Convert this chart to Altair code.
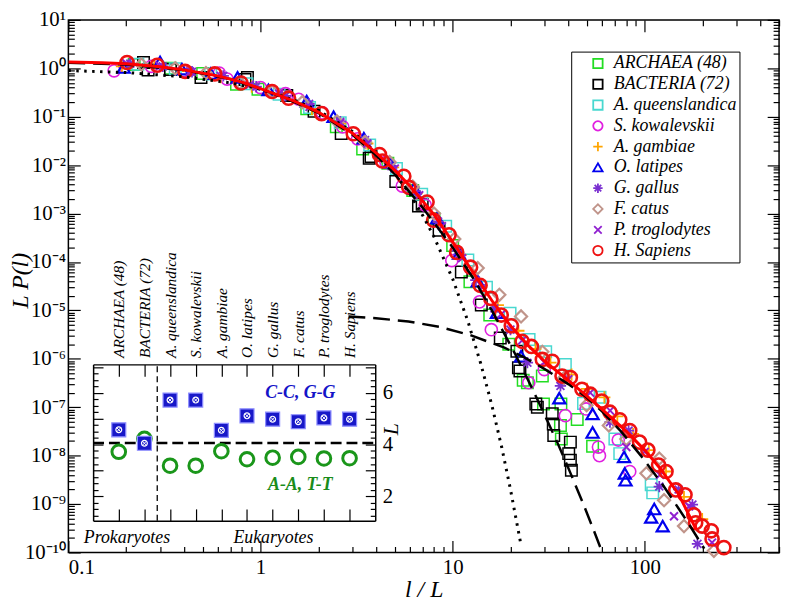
import altair as alt
import pandas as pd

FONT = "'Liberation Serif', 'Times New Roman', Times, serif"
W, H = 718, 538

# ---------------- main panel data ----------------
names = ["ARCHAEA (48)", "BACTERIA (72)", "A. queenslandica", "S. kowalevskii", "A. gambiae",
         "O. latipes", "G. gallus", "F. catus", "P. troglodytes", "H. Sapiens"]

x_ar = [0.22, 0.34, 0.5, 0.75, 0.97, 1.74, 2.48, 3.4, 4.6, 6.2, 8.0, 10.0, 12.3, 15.6, 19.6, 23.3,
        24.5, 29.3, 29.7, 36.6, 36.4, 36.8, 44.5, 53.5]
y_ar = [1.2, 1.0, 0.78, 0.47, 0.37, 0.147, 0.062, 0.0216, 0.011, 3.0e-3, 7.8e-4, 2.2e-4, 3.9e-5, 8.0e-6,
        2.0e-6, 3.6e-7, 3.2e-7, 4.4e-7, 1.16e-7, 1.16e-7, 4.2e-8, 2.2e-8, 5.6e-8, 1.57e-8]

x_ba = [0.26, 0.246, 0.34, 0.49, 0.83, 0.855, 1.37, 1.9, 2.63, 3.68, 3.76, 5.06, 6.64, 6.94, 8.5, 11.1,
        14.1, 17.7, 21.6, 22.0, 22.4, 27.1, 27.6, 33.0, 33.4, 33.6, 41.0, 40.2, 41.0, 41.5]
y_ba = [0.92, 1.32, 0.95, 0.65, 0.59, 0.65, 0.275, 0.13, 0.045, 0.0139, 0.0151, 4.6e-3, 1.43e-3, 1.55e-3,
        4.5e-4, 6.2e-5, 1.29e-5, 2.7e-6, 1.43e-6, 6.5e-7, 5.6e-7, 1.16e-7, 1.0e-7, 7.3e-8, 4.5e-8, 2.6e-8,
        1.9e-8, 1.1e-8, 8.0e-9, 5.0e-9]

x_aq = [0.23, 0.36, 0.55, 0.85, 1.25, 1.8, 2.6, 3.7, 5.1, 6.9, 9.2, 12.0, 15.0, 19.9, 25.0, 30.5, 38.6,
        48.0, 58.5, 69.9, 74.1, 108, 110]
y_aq = [1.22, 0.98, 0.76, 0.48, 0.29, 0.155, 0.075, 0.026, 8.5e-3, 2.5e-3, 5.5e-4, 1.1e-4, 3.0e-5, 8.7e-6,
        2.5e-6, 1.4e-6, 7.6e-7, 1.2e-7, 1.6e-7, 2.2e-8, 1.1e-8, 2.5e-9, 1.7e-9]

x_sk = [0.173, 0.27, 0.396, 0.61, 0.67, 1.0, 1.35, 1.58, 2.1, 2.68, 3.2, 4.5, 5.47, 7.2, 9.9, 13.8, 15.9,
        24.9, 30.0, 38.6, 49.5, 57.4, 58.1, 72.8, 83.5]
y_sk = [0.89, 1.1, 0.89, 0.80, 0.60, 0.40, 0.30, 0.23, 0.12, 0.062, 0.035, 0.0115, 3.7e-3, 1.5e-3, 1.07e-4,
        1.5e-5, 4.0e-6, 3.2e-7, 6.0e-7, 6.7e-8, 9.2e-8, 1.5e-8, 1.0e-8, 2.1e-8, 4.7e-9]

x_ag = [0.19, 0.28, 0.42, 0.62, 0.9, 1.3, 1.85, 2.6, 3.6, 4.9, 6.5, 8.5, 11.0, 14.0, 17.2, 22.0, 27.0,
        32.3, 41.6, 50.0, 61.6, 72.0, 86.9, 105, 129, 160, 199]
y_ag = [1.1, 1.12, 0.88, 0.66, 0.42, 0.27, 0.145, 0.072, 0.028, 9.0e-3, 2.6e-3, 6.5e-4, 1.4e-4, 3.2e-5,
        1.29e-5, 3.8e-6, 1.6e-6, 8.3e-7, 4.7e-7, 2.4e-7, 1.6e-7, 6.5e-8, 2.8e-8, 1.3e-8, 4.7e-9, 1.4e-9, 4.9e-10]

x_ol = [0.194, 0.30, 0.39, 0.55, 0.76, 1.1, 1.74, 2.4, 3.45, 4.7, 6.3, 8.3, 10.8, 13.5, 17.0, 22.7, 35.9,
        53.5, 53.5, 78.0, 78.7, 79.4, 112, 108, 124]
y_ol = [1.04, 1.35, 0.96, 0.78, 0.65, 0.36, 0.21, 0.1, 0.036, 0.0115, 3.3e-3, 8.0e-4, 1.5e-4, 4.0e-5, 9.0e-6,
        1.13e-6, 1.54e-7, 7.3e-8, 3.0e-8, 9.4e-9, 4.3e-9, 3.1e-9, 7.9e-10, 5.3e-10, 3.5e-10]

x_gg = [0.21, 0.31, 0.44, 0.64, 0.95, 1.35, 1.79, 2.6, 3.5, 4.8, 6.4, 8.4, 10.6, 13.2, 16.5, 20.0, 24.5,
        36.4, 65.9, 82.4, 119, 150, 177, 188]
y_gg = [1.25, 1.1, 0.85, 0.7, 0.42, 0.27, 0.185, 0.079, 0.033, 0.0095, 2.9e-3, 6.8e-4, 1.7e-4, 4.2e-5,
        1.1e-5, 4.0e-6, 8.3e-7, 2.75e-7, 4.9e-8, 3.3e-8, 2.3e-9, 2.0e-9, 9.7e-10, 1.5e-10]

x_fc = [0.24, 0.36, 0.52, 0.78, 1.15, 1.65, 2.5, 3.5, 4.7, 6.2, 8.0, 10.2, 13.5, 17.5, 22.7, 29.3, 38.0,
        49.8, 65.0, 80.2, 102, 119, 126, 160, 229]
y_fc = [1.2, 1.0, 0.8, 0.5, 0.33, 0.2, 0.08, 0.03, 0.0115, 3.6e-3, 1.0e-3, 3.0e-4, 7.5e-5, 2.1e-5, 7.5e-6,
        1.4e-6, 4.0e-7, 1.1e-7, 4.2e-8, 2.2e-8, 4.3e-9, 8.7e-9, 1.2e-9, 3.5e-10, 1.08e-10]

x_pt = [0.2, 0.3, 0.43, 0.62, 0.88, 1.25, 1.8, 2.6, 3.6, 5.0, 6.7, 8.8, 11.2, 14.3, 18.0, 23.0, 30.0, 40.0,
        52.0, 66.0, 80.2, 100, 120, 142, 170, 224]
y_pt = [1.28, 1.12, 0.86, 0.7, 0.46, 0.3, 0.16, 0.075, 0.028, 8.5e-3, 2.4e-3, 5.5e-4, 1.2e-4, 3.0e-5, 8.5e-6,
        2.4e-6, 8.5e-7, 3.8e-7, 2.0e-7, 8.5e-8, 1.5e-8, 1.2e-8, 4.0e-9, 5.6e-10, 9e-10, 1.6e-10]

x_hs = [0.202, 0.290, 0.405, 0.578, 0.791, 1.148, 1.40, 2.08, 3.04, 4.16, 4.31, 5.57, 5.91, 7.36, 7.96, 9.58,
        10.5, 12.4, 13.9, 15.8, 17.9, 20.2, 23.0, 25.7, 29.3, 33.0, 37.1, 41.0, 47.1, 52.1, 59.7, 65.9, 74.1,
        83.5, 94.0, 103.8, 118, 129, 145, 162, 180, 184, 199, 222, 224, 258]
y_hs = [1.32, 1.16, 0.865, 0.768, 0.498, 0.332, 0.242, 0.116, 0.0445, 0.0166, 0.0122, 5.9e-3, 3.5e-3,
        1.73e-3, 7.3e-4, 3.65e-4, 1.58e-4, 7.8e-5, 3.3e-5, 1.77e-5, 8.0e-6, 4.8e-6, 2.3e-6, 1.8e-6, 9.7e-7,
        8.9e-7, 4.4e-7, 4.1e-7, 2.35e-7, 1.86e-7, 1.34e-7, 7.9e-8, 5.5e-8, 3.3e-8, 1.9e-8, 1.3e-8, 6.4e-9,
        4.7e-9, 1.96e-9, 1.55e-9, 6.0e-10, 4.1e-10, 3.5e-10, 2.8e-10, 1.9e-10, 1.26e-10]

# curves
red_x = [0.1, 0.15, 0.2, 0.3, 0.4, 0.6, 0.8, 1.0, 1.5, 2, 3, 4, 5, 6, 8, 10, 13, 16, 20, 25, 30, 40, 50,
         60, 80, 100, 120, 150, 185]
red_y = [1.35, 1.3, 1.24, 1.08, 0.93, 0.70, 0.52, 0.38, 0.21, 0.125, 0.046, 0.018, 0.0078, 0.0037, 9.5e-4,
         2.6e-4, 5.5e-5, 1.6e-5, 4.8e-6, 1.8e-6, 9e-7, 3.6e-7, 1.7e-7, 9e-8, 3.2e-8, 1.3e-8, 5.5e-9, 1.6e-9, 3e-10]

dash1_x = [0.1, 0.2, 0.4, 0.7, 1, 1.5, 2, 3, 4, 5, 7, 10, 13, 16, 21, 25, 30, 35, 41, 48, 55, 62]
dash1_y = [1.3, 1.2, 0.92, 0.6, 0.38, 0.2, 0.12, 0.043, 0.016, 6.5e-3, 1.3e-3, 2e-4, 4.2e-5, 1.0e-5, 1.33e-6,
           3.3e-7, 7.2e-8, 1.9e-8, 4.4e-9, 9.8e-10, 2.5e-10, 7.2e-11]

dash2_x = [2.87, 3.99, 5.89, 8.5, 12.3, 18.6, 23.6, 30, 40, 49.8, 60.1, 75, 95.4, 124, 150, 170, 204]
dash2_y = [7.5e-6, 6.9e-6, 5.9e-6, 4.6e-6, 3.1e-6, 1.7e-6, 1.07e-6, 6.2e-7, 3.0e-7, 1.6e-7, 8.1e-8, 3.2e-8,
           1.0e-8, 2.5e-9, 8.1e-10, 3.8e-10, 1.2e-10]

dot_x = [0.1, 0.2, 0.4, 0.7, 1, 1.5, 2, 3, 4, 5, 6, 7, 8, 10, 12, 14, 16, 18, 20, 22.5]
dot_y = [0.9, 0.82, 0.67, 0.50, 0.37, 0.22, 0.135, 0.05, 0.018, 6.7e-3, 2.5e-3, 9e-4, 3.3e-4, 4.5e-5, 6e-6,
         8e-7, 1.1e-7, 1.5e-8, 2e-9, 1.7e-10]

# ---------------- inset data ----------------
inset_idx = [1, 2, 3, 4, 5, 6, 7, 8, 9, 10]
cc_vals = [4.57, 4.05, 5.72, 5.72, 4.55, 5.11, 4.98, 4.88, 5.03, 4.98]
aa_vals = [3.72, 4.22, 3.18, 3.18, 3.74, 3.43, 3.49, 3.52, 3.46, 3.47]
threshold = 4.06
split_at = 2.5

# ---------------- styles ----------------
colors = ["#22dd22", "#000000", "#48d8d0", "#e020e0", "#ffa500", "#0000ee", "#7a30d0", "#c0948a",
          "#9020d0", "#ee1111"]
PLUS = "M-1,0L1,0M0,-1L0,1"
XMARK = "M-0.8,-0.8L0.8,0.8M-0.8,0.8L0.8,-0.8"
STAR = "M-1,0L1,0M0,-1L0,1M-0.7,-0.7L0.7,0.7M-0.7,0.7L0.7,-0.7"
shapes = ["square", "square", "square", "circle", PLUS, "triangle-up", STAR, "diamond", XMARK, "circle"]
sizes = [135, 135, 135, 150, 150, 150, 130, 150, 100, 175]
widths = [1.5, 1.5, 1.5, 1.6, 1.8, 2.2, 1.8, 2.2, 2.0, 2.6]

series_x = [x_ar, x_ba, x_aq, x_sk, x_ag, x_ol, x_gg, x_fc, x_pt, x_hs]
series_y = [y_ar, y_ba, y_aq, y_sk, y_ag, y_ol, y_gg, y_fc, y_pt, y_hs]
rows = []
for i, name in enumerate(names):
    for xv, yv in zip(series_x[i], series_y[i]):
        rows.append({"series": name, "x": xv, "y": yv, "sz": sizes[i], "sw": widths[i]})
pts = pd.DataFrame(rows)

xs_main = alt.Scale(type="log", domain=[0.1, 500], nice=False)
ys_main = alt.Scale(type="log", domain=[1e-10, 10], nice=False)

x_major = [0.1, 1, 10, 100]
x_minor = [m * 10.0 ** e for e in range(-1, 3) for m in range(2, 10) if m * 10.0 ** e <= 500]
y_major = [10.0 ** e for e in range(-10, 2)]
y_minor = [m * 10.0 ** e for e in range(-10, 1) for m in range(2, 10)]

sup_expr = ("'10' + replace(replace(replace(replace(replace(replace(replace(replace(replace(replace(replace("
            "toString(round(log(datum.value)/LN10)), '-', '\u207b'), '0', '\u2070'), '1', '\u00b9'), "
            "'2', '\u00b2'), '3', '\u00b3'), '4', '\u2074'), '5', '\u2075'), '6', '\u2076'), '7', '\u2077'), "
            "'8', '\u2078'), '9', '\u2079')")


def main_axis_layer(xaxis, yaxis):
    return alt.Chart(pts).mark_point(opacity=0).encode(
        x=alt.X("x:Q", scale=xs_main, axis=xaxis),
        y=alt.Y("y:Q", scale=ys_main, axis=yaxis),
    )


ax_layers = [
    main_axis_layer(
        alt.Axis(orient="bottom", values=x_major, format="~g", ticks=False, domain=False, grid=False,
                 labelFontSize=21, labelPadding=4, title="l / L", titleFontSize=24, titleFontStyle="italic",
                 titleFontWeight="normal", titleY=38, titleBaseline="middle"),
        alt.Axis(orient="left", values=y_major, labelExpr=sup_expr, ticks=False, domain=False, grid=False,
                 labelFontSize=21, labelPadding=3, title="L P(l)", titleFontSize=24, titleFontStyle="italic",
                 titleFontWeight="normal", titleAngle=270, titleX=-48, titleY=263, titleBaseline="middle",
                 titleAlign="center"),
    ),
    main_axis_layer(
        alt.Axis(orient="top", offset=-H, values=x_major, labels=False, domain=False, grid=False, tickSize=12,
                 title=None),
        alt.Axis(orient="right", offset=-W, values=y_major, labels=False, domain=False, grid=False, tickSize=12,
                 title=None),
    ),
    main_axis_layer(
        alt.Axis(orient="top", offset=-H, values=x_minor, labels=False, domain=False, grid=False, tickSize=6,
                 title=None),
        alt.Axis(orient="right", offset=-W, values=y_minor, labels=False, domain=False, grid=False, tickSize=6,
                 title=None),
    ),
    main_axis_layer(
        alt.Axis(orient="bottom", offset=-H, values=x_major, labels=False, domain=False, grid=False, tickSize=12,
                 title=None),
        alt.Axis(orient="left", offset=-W, values=y_major, labels=False, domain=False, grid=False, tickSize=12,
                 title=None),
    ),
    main_axis_layer(
        alt.Axis(orient="bottom", offset=-H, values=x_minor, labels=False, domain=False, grid=False, tickSize=6,
                 title=None),
        alt.Axis(orient="left", offset=-W, values=y_minor, labels=False, domain=False, grid=False, tickSize=6,
                 title=None),
    ),
]

leg = alt.Legend(title=None, orient="none", legendX=508, legendY=32, strokeColor="black", fillColor="white",
                 padding=3, labelFont=FONT, labelFontSize=18, labelFontStyle="italic", labelColor="black",
                 symbolSize=90, symbolStrokeWidth=1.8, symbolOpacity=1, rowPadding=3, symbolOffset=15,
                 labelOffset=7, labelLimit=300)

points = alt.Chart(pts).mark_point(filled=False, opacity=1).encode(
    x=alt.X("x:Q", scale=xs_main, axis=None),
    y=alt.Y("y:Q", scale=ys_main, axis=None),
    color=alt.Color("series:N", scale=alt.Scale(domain=names, range=colors), legend=leg),
    shape=alt.Shape("series:N", scale=alt.Scale(domain=names, range=shapes), legend=leg),
    size=alt.Size("sz:Q", scale=None),
    strokeWidth=alt.StrokeWidth("sw:Q", scale=None),
)


def curve(xs, ys, color, width, dash=None):
    df = pd.DataFrame({"x": xs, "y": ys})
    kw = dict(color=color, strokeWidth=width, clip=True)
    if dash:
        kw["strokeDash"] = dash
    return alt.Chart(df).mark_line(**kw).encode(
        x=alt.X("x:Q", scale=xs_main, axis=None),
        y=alt.Y("y:Q", scale=ys_main, axis=None),
    )


lines = [
    curve(dot_x, dot_y, "black", 3, [2.5, 5.5]),
    curve(dash1_x, dash1_y, "black", 2.5, [17, 8]),
    curve(dash2_x, dash2_y, "black", 2.5, [17, 8]),
    curve(red_x, red_y, "#ff0000", 3),
]

main = alt.layer(*ax_layers, points, *lines).resolve_axis(x="independent", y="independent")

# ---------------- inset ----------------
ins_x = alt.Scale(domain=[0, 11], range=[25, 310], zero=False, nice=False)
ins_y = alt.Scale(domain=[1.05, 7.1], range=[506, 348], zero=False, nice=False)
ins_df = pd.DataFrame({"i": inset_idx, "cc": cc_vals, "aa": aa_vals})
name_expr = "[" + ",".join("'%s'" % n for n in names) + "][datum.value - 1]"
y_in_major = [1, 2, 3, 4, 5, 6, 7]
y_in_minor = [1.25 + 0.25 * k for k in range(24) if (1.25 + 0.25 * k) % 1 != 0]


def inset_axis_layer(xaxis, yaxis):
    return alt.Chart(ins_df).mark_point(opacity=0).encode(
        x=alt.X("i:Q", scale=ins_x, axis=xaxis),
        y=alt.Y("cc:Q", scale=ins_y, axis=yaxis),
    )


ins_axes = [
    inset_axis_layer(
        alt.Axis(orient="top", offset=-348, values=inset_idx, labelExpr=name_expr, labelAngle=270,
                 labelAlign="left", labelBaseline="middle", labelFontSize=15.5, labelFontStyle="italic",
                 labelPadding=7, ticks=False, domain=True, grid=False, title=None),
        alt.Axis(orient="right", offset=-408, values=[2, 4, 6], ticks=False, domain=False, grid=False,
                 labelFontSize=21, labelPadding=7, title="L", titleFontSize=22, titleFontStyle="italic",
                 titleFontWeight="normal", titleAngle=270, titleX=16, titleY=413, titleBaseline="middle",
                 titleAlign="center"),
    ),
    inset_axis_layer(
        alt.Axis(orient="bottom", offset=-190, values=inset_idx, labels=False, domain=False, grid=False,
                 tickSize=12, title=None),
        alt.Axis(orient="left", offset=-310, values=y_in_major, labels=False, domain=True, grid=False,
                 tickSize=10, title=None),
    ),
    inset_axis_layer(
        alt.Axis(orient="top", offset=-506, values=inset_idx, labels=False, domain=True, grid=False,
                 tickSize=12, title=None),
        alt.Axis(orient="right", offset=-693, values=y_in_major, labels=False, domain=True, grid=False,
                 tickSize=10, title=None),
    ),
    inset_axis_layer(
        None,
        alt.Axis(orient="left", offset=-310, values=y_in_minor, labels=False, domain=False, grid=False,
                 tickSize=5, title=None),
    ),
    inset_axis_layer(
        None,
        alt.Axis(orient="right", offset=-693, values=y_in_minor, labels=False, domain=False, grid=False,
                 tickSize=5, title=None),
    ),
]

hline = alt.Chart(pd.DataFrame({"x": [0], "x2": [11], "y": [threshold]})).mark_rule(
    color="black", strokeWidth=2.5, strokeDash=[11, 5]).encode(
    x=alt.X("x:Q", scale=ins_x, axis=None), x2="x2:Q", y=alt.Y("y:Q", scale=ins_y, axis=None))

vline = alt.Chart(pd.DataFrame({"x": [split_at], "y": [1.05], "y2": [7.1]})).mark_rule(
    color="black", strokeWidth=1.3, strokeDash=[6, 4]).encode(
    x=alt.X("x:Q", scale=ins_x, axis=None), y=alt.Y("y:Q", scale=ins_y, axis=None), y2="y2:Q")

green = alt.Chart(ins_df).mark_point(filled=False, shape="circle", size=190, strokeWidth=3,
                                     color="#1a961a", opacity=1).encode(
    x=alt.X("i:Q", scale=ins_x, axis=None), y=alt.Y("aa:Q", scale=ins_y, axis=None))

blue = alt.Chart(ins_df).mark_point(filled=True, shape="square", size=200, color="#1818c8", opacity=1,
                                    stroke="#8c8cff", strokeWidth=1.2).encode(
    x=alt.X("i:Q", scale=ins_x, axis=None), y=alt.Y("cc:Q", scale=ins_y, axis=None))

blue_pat = alt.Chart(ins_df).mark_point(filled=False, shape="circle", size=35, color="white",
                                        strokeWidth=1.2, opacity=1).encode(
    x=alt.X("i:Q", scale=ins_x, axis=None), y=alt.Y("cc:Q", scale=ins_y, axis=None))

blue_x = alt.Chart(ins_df).mark_point(filled=False, shape=XMARK, size=30, color="white",
                                      strokeWidth=1, opacity=1).encode(
    x=alt.X("i:Q", scale=ins_x, axis=None), y=alt.Y("cc:Q", scale=ins_y, axis=None))

pair_txt = pd.DataFrame({"x": [8.08, 8.08], "y": [6.0, 2.42], "t": ["C-C, G-G", "A-A, T-T"],
                         "c": ["#1414c8", "#1a8c1a"]})
pair_labels = alt.Chart(pair_txt).mark_text(font=FONT, fontSize=18, fontStyle="italic", fontWeight="bold",
                                            align="center", baseline="middle").encode(
    x=alt.X("x:Q", scale=ins_x, axis=None), y=alt.Y("y:Q", scale=ins_y, axis=None), text="t:N",
    color=alt.Color("c:N", scale=None))

group_txt = pd.DataFrame({"x": [1.32, 7.03], "y": [0.37, 0.37], "t": ["Prokaryotes", "Eukaryotes"]})
group_labels = alt.Chart(group_txt).mark_text(font=FONT, fontSize=18, fontStyle="italic", color="black",
                                              align="center", baseline="middle").encode(
    x=alt.X("x:Q", scale=ins_x, axis=None), y=alt.Y("y:Q", scale=ins_y, axis=None), text="t:N")

inset = alt.layer(*ins_axes, vline, hline, green, blue, blue_pat, blue_x, pair_labels, group_labels
                  ).resolve_axis(x="independent", y="independent")

chart = (
    alt.layer(main, inset)
    .resolve_scale(x="independent", y="independent")
    .properties(width=W, height=H, autosize=alt.AutoSizeParams(type="none"),
                padding={"left": 61, "top": 9, "right": 6, "bottom": 46})
    .configure_view(stroke="black", strokeWidth=1.5)
    .configure_axis(labelFont=FONT, titleFont=FONT, labelColor="black", titleColor="black",
                    tickColor="black", domainColor="black", tickWidth=1.2, domainWidth=1.5, grid=False)
    .configure_legend(labelFont=FONT)
    .configure_text(font=FONT)
)

chart.save("out.html", embed_options={"renderer": "svg", "actions": False})
